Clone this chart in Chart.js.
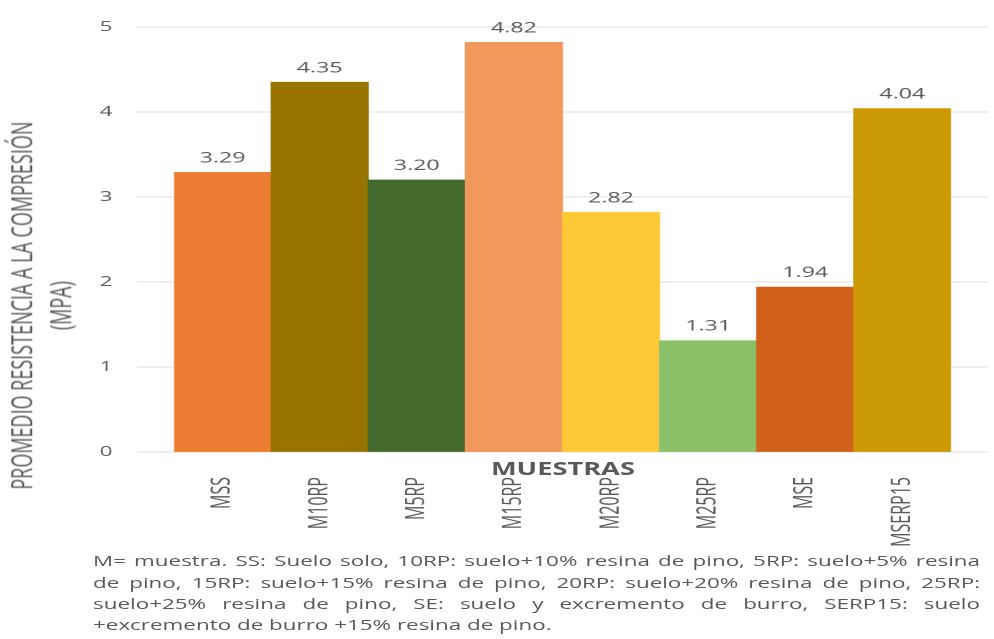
<!DOCTYPE html>
<html lang="es">
<head>
<meta charset="utf-8">
<title>Promedio de resistencia a la compresión por muestra</title>
<script src="https://cdn.jsdelivr.net/npm/chart.js@4.4.1/dist/chart.umd.min.js"></script>
<style>
  html, body { margin: 0; padding: 0; background: #fff; overflow: hidden; width: 994px; height: 639px; }
  /* the whole figure is laid out narrow and widened horizontally */
  #stage {
    position: absolute; left: 0; top: 0; width: 621px; height: 639px;
    transform: scaleX(1.6006); transform-origin: 0 0;
    font-family: 'Open Sans', sans-serif; color: #595959;
  }
  #grafico { position: absolute; left: 0; top: 0; }
  #ytitle {
    position: absolute; width: 420px; height: 47.2px; left: -184.2px; top: 282.4px;
    transform: rotate(-90deg); text-align: center; font-size: 18px; line-height: 23.6px;
    white-space: nowrap;
  }
  #xtitle {
    position: absolute; left: 251.7px; width: 200px; top: 459.4px; text-align: center;
    font-weight: bold; font-size: 17px; line-height: 20px;
  }
  #nota {
    position: absolute; left: 58.1px; width: 554.2px; top: 550.4px;
    font-size: 14px; line-height: 21.2px;
  }
  #nota div { text-align: justify; text-align-last: justify; }
  #nota div.ultima { text-align-last: left; }
</style>
</head>
<body>
<div id="stage">
  <canvas id="grafico" width="621" height="555"></canvas>
  <div id="ytitle">PROMEDIO RESISTENCIA A LA COMPRESIÓN<br>(MPA)</div>
  <div id="xtitle">MUESTRAS</div>
  <div id="nota">
    <div>M= muestra. SS: Suelo solo, 10RP: suelo+10% resina de pino, 5RP: suelo+5% resina</div>
    <div>de pino, 15RP: suelo+15% resina de pino, 20RP: suelo+20% resina de pino, 25RP:</div>
    <div>suelo+25% resina de pino, SE: suelo y excremento de burro, SERP15: suelo</div>
    <div class="ultima">+excremento de burro +15% resina de pino.</div>
  </div>
</div>
<script>
// Muestras y resistencia promedio a la compresión (MPa)
const categorias = ['MSS', 'M10RP', 'M5RP', 'M15RP', 'M20RP', 'M25RP', 'MSE', 'MSERP15'];
const resistencia = [3.29, 4.35, 3.20, 4.82, 2.82, 1.31, 1.94, 4.04];
const colores = ['#ED7D31', '#997300', '#43692C', '#F1995B', '#FFC936', '#8BC168', '#D1601A', '#CC9A04'];
const marcasY = [0, 1, 2, 3, 4, 5];

const GRIS_TEXTO = '#595959';
const GRIS_REJILLA = '#DCDCDC';
const EXTENSION_REJILLA = 23.1;

// value printed above each bar
const etiquetasValor = {
  id: 'etiquetasValor',
  afterDatasetsDraw(chart) {
    const ctx = chart.ctx;
    const meta = chart.getDatasetMeta(0);
    const datos = chart.data.datasets[0].data;
    ctx.save();
    ctx.font = '14.5px "Open Sans", sans-serif';
    ctx.fillStyle = GRIS_TEXTO;
    ctx.textAlign = 'center';
    ctx.textBaseline = 'alphabetic';
    meta.data.forEach((barra, i) => {
      ctx.fillText(datos[i].toFixed(2), barra.x, barra.y - 10);
    });
    ctx.restore();
  }
};

new Chart(document.getElementById('grafico'), {
  type: 'bar',
  data: {
    labels: categorias,
    datasets: [{
      data: resistencia,
      backgroundColor: colores,
      borderWidth: 0,
      barPercentage: 1,
      categoryPercentage: 1
    }]
  },
  options: {
    responsive: false,
    devicePixelRatio: 2,
    animation: false,
    layout: { padding: { left: 0, right: 3.8, top: 27, bottom: 0 } },
    plugins: { legend: { display: false }, tooltip: { enabled: false } },
    scales: {
      x: {
        offset: true,
        grid: { display: false, drawTicks: false },
        border: { display: false },
        ticks: {
          color: GRIS_TEXTO,
          font: { family: '"Open Sans", sans-serif', size: 16 },
          padding: 25,
          minRotation: 90,
          maxRotation: 90,
          autoSkip: false
        },
        afterFit(scale) { scale.height = 103; }
      },
      y: {
        min: 0,
        max: 5,
        afterBuildTicks(scale) { scale.ticks = marcasY.map(v => ({ value: v })); },
        grid: { color: GRIS_REJILLA, lineWidth: 1, drawTicks: true, tickLength: EXTENSION_REJILLA },
        border: { display: false },
        ticks: {
          color: GRIS_TEXTO,
          font: { family: '"Open Sans", sans-serif', size: 14 },
          padding: 15.3
        },
        afterFit(scale) { scale.width = 108.7; }
      },
      yDer: {
        position: 'right',
        min: 0,
        max: 5,
        afterBuildTicks(scale) { scale.ticks = marcasY.map(v => ({ value: v })); },
        grid: { color: GRIS_REJILLA, lineWidth: 1, drawOnChartArea: false, drawTicks: true, tickLength: EXTENSION_REJILLA },
        border: { display: false },
        ticks: { display: false },
        afterFit(scale) { scale.width = EXTENSION_REJILLA; }
      }
    }
  },
  plugins: [etiquetasValor]
});
</script>
</body>
</html>
